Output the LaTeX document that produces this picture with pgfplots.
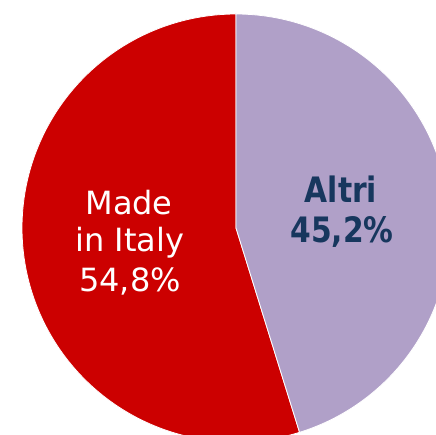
\documentclass[border=0pt]{standalone}
\usepackage{pgfplots}
\pgfplotsset{compat=1.18}
\usepackage{pgfplotstable}
\usepackage{fontspec}
\setmainfont{DejaVu Sans}
\definecolor{pred}{HTML}{CC0000}
\definecolor{plilac}{HTML}{B0A0C8}
\definecolor{pnavy}{HTML}{17375E}
% share (%) of each slice
\pgfplotstableread{
label share
MadeInItaly 54.8
Altri 45.2
}\piedata
\pgfplotstablegetelem{0}{share}\of\piedata\let\shareA\pgfplotsretval
\pgfplotstablegetelem{1}{share}\of\piedata\let\shareB\pgfplotsretval
\pgfmathsetmacro{\angA}{90+3.6*\shareA}
\pgfmathsetmacro{\angB}{90-3.6*\shareB}
\begin{document}
\begin{tikzpicture}
\begin{axis}[
  width=436bp, height=435bp, scale only axis,
  xmin=0, xmax=436, ymin=0, ymax=435,
  axis lines=none, clip=true,
]
\addplot[fill=pred, draw=white, line width=0.8pt, domain=90:\angA, samples=150, variable=\t]
  ({236+214*cos(\t)},{207+214*sin(\t)}) -- (axis cs:236,207) -- cycle;
\addplot[fill=plilac, draw=white, line width=0.8pt, domain=\angB:90, samples=150, variable=\t]
  ({236+214*cos(\t)},{207+214*sin(\t)}) -- (axis cs:236,207) -- cycle;
\node[anchor=base, text=white, inner sep=0pt] at (axis cs:129,220) {\fontsize{32bp}{38bp}\selectfont Made};
\node[anchor=base, text=white, inner sep=0pt] at (axis cs:130,183) {\fontsize{32bp}{38bp}\selectfont in Italy};
\node[anchor=base, text=white, inner sep=0pt] at (axis cs:130,143) {\fontsize{32bp}{38bp}\selectfont 54,8\%};
\node[anchor=base, text=pnavy, inner sep=0pt] at (axis cs:341,232) {\scalebox{0.85}[1]{\fontsize{35bp}{40bp}\selectfont\bfseries Altri}};
\node[anchor=base, text=pnavy, inner sep=0pt] at (axis cs:342,192) {\scalebox{0.85}[1]{\fontsize{35bp}{40bp}\selectfont\bfseries 45,2\%}};
\end{axis}
\pgfresetboundingbox
\path[use as bounding box] (current axis.south west) rectangle (current axis.north east);
\end{tikzpicture}
\end{document}
